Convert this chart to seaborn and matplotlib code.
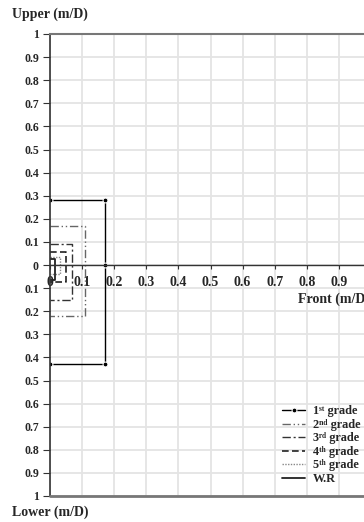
import matplotlib
matplotlib.use("Agg")
import matplotlib.pyplot as plt
import seaborn as sns
import pandas as pd

grades = ["1\u02e2\u1d57 grade", "2\u207f\u1d48 grade", "3\u02b3\u1d48 grade",
          "4\u1d57\u02b0 grade", "5\u1d57\u02b0 grade", "W.R"]
front = [0.17, 0.11, 0.07, 0.05, 0.03, 0.017]
upper = [0.28, 0.17, 0.09, 0.055, 0.035, 0.025]
lower = [0.43, 0.22, 0.15, 0.075, 0.04, 0.065]
xticks = [0, 0.1, 0.2, 0.3, 0.4, 0.5, 0.6, 0.7, 0.8, 0.9]
xtick_labels = ["0", "0.1", "0.2", "0.3", "0.4", "0.5", "0.6", "0.7", "0.8", "0.9"]
yticks = [1, 0.9, 0.8, 0.7, 0.6, 0.5, 0.4, 0.3, 0.2, 0.1, 0, -0.1, -0.2, -0.3,
          -0.4, -0.5, -0.6, -0.7, -0.8, -0.9, -1]
ytick_labels = ["1", "0.9", "0.8", "0.7", "0.6", "0.5", "0.4", "0.3", "0.2", "0.1", "0",
                "0.1", "0.2", "0.3", "0.4", "0.5", "0.6", "0.7", "0.8", "0.9", "1"]

styles = [
    dict(color="black", linestyle="-", marker="o", markersize=3.5, linewidth=1.0),
    dict(color="#666666", linestyle=(0, (6, 2, 1, 2, 1, 2)), linewidth=1.0),
    dict(color="#333333", linestyle=(0, (6, 2, 1.5, 2)), linewidth=1.0),
    dict(color="#222222", linestyle=(0, (4, 2)), linewidth=1.2),
    dict(color="#888888", linestyle=(0, (1, 1)), linewidth=1.0),
    dict(color="#222222", linestyle="-", linewidth=1.3),
]

sns.set_style("whitegrid")
plt.rcParams["font.family"] = ["Liberation Serif", "DejaVu Sans"]
plt.rcParams["font.weight"] = "bold"

fig = plt.figure(figsize=(3.64, 5.22), dpi=100)
ax = fig.add_axes([50 / 364, 26 / 522, 321 / 364, 462 / 522])

for g, w, u, l, st in zip(grades, front, upper, lower, styles):
    df = pd.DataFrame({"x": [0, w, w, w, 0], "y": [u, u, 0, -l, -l]})
    sns.lineplot(data=df, x="x", y="y", sort=False, estimator=None, ax=ax,
                 label=g, **st)

ax.set_xlim(0, 1)
ax.set_ylim(-1, 1)
ax.set_xticks(xticks)
ax.set_xticklabels(xtick_labels, fontsize=8.5, fontweight="bold")
ax.set_yticks(yticks)
ax.set_yticklabels(ytick_labels, fontsize=8.5, fontweight="bold")
ax.set_xlabel("")
ax.set_ylabel("")
ax.grid(True, color="#e4e4e4", linewidth=1.3)

ax.spines["bottom"].set_position(("data", 0))
ax.spines["bottom"].set_color("#333333")
ax.spines["bottom"].set_linewidth(1.0)
ax.spines["left"].set_color("#333333")
ax.spines["left"].set_linewidth(1.2)
ax.spines["top"].set_color("#777777")
ax.spines["top"].set_linewidth(1.5)
ax.spines["right"].set_visible(False)
ax.axhline(-1, color="#777777", linewidth=2.0, clip_on=False, zorder=3)

ax.tick_params(axis="x", direction="out", length=3, width=0.8, color="#333333", pad=5, bottom=True)
ax.tick_params(axis="y", direction="out", length=5, width=0.8, color="#333333", pad=3, left=True)

fig.text(12 / 364, 1 - 14 / 522, "Upper (m/D)", fontsize=10, fontweight="bold", va="center", ha="left")
fig.text(12 / 364, 1 - 512 / 522, "Lower (m/D)", fontsize=10, fontweight="bold", va="center", ha="left")
ax.text(0.773, -0.148, "Front (m/D)", fontsize=10, fontweight="bold", va="center", ha="left")

leg = ax.legend(loc="upper left", bbox_to_anchor=(0.723, 0.196), frameon=False,
                fontsize=8.8, handlelength=1.88, handletextpad=0.65,
                labelspacing=0.12, borderpad=0, borderaxespad=0)
for t in leg.get_texts():
    t.set_fontweight("bold")

fig.savefig("out.png", dpi=100)
